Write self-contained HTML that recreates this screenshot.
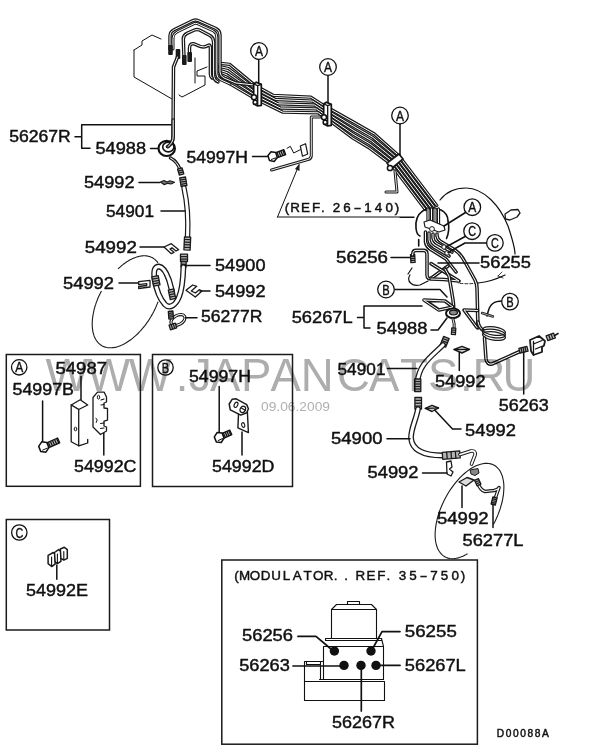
<!DOCTYPE html>
<html><head><meta charset="utf-8"><title>Brake pipes diagram</title>
<style>
html,body{margin:0;padding:0;background:#fff}
svg{display:block;will-change:transform}
.lb{font-family:"Liberation Sans",sans-serif;fill:#111;stroke:#111;stroke-width:.42px}
.cl{font-family:"Liberation Sans",sans-serif;fill:#111;stroke:#111;stroke-width:.4px}
.sm{font-family:"Liberation Sans",sans-serif;fill:#111;stroke:#111;stroke-width:.45px}
.dn{font-family:"Liberation Sans",sans-serif;fill:#111;stroke:#111;stroke-width:.45px}
</style></head><body>
<svg width="600" height="756" viewBox="0 0 600 756">
<rect width="600" height="756" fill="#fff"/>
<path d="M134,50 L134,77 L172,99 M179,95 L182,97 L186,95 L205,85 L205,76 L197,76 L197,71 L207,67 M134,50 L142,45 L142,41 L152,35 L161,39 M195,58 L195,83" fill="none" stroke="#111" stroke-width="1.0" stroke-linejoin="round" stroke-linecap="round" />
<path d="M221.0,62.0 L230.0,62.5 L255.0,84.0 L272.0,93.5 L310.0,95.5 L322.0,103.0 L353.0,120.0 L375.0,132.5 L400.0,155.0 L438.0,205.0 L424.0,210.0 L390.0,165.0 L368.0,149.0 L353.0,140.0 L331.0,123.0 L319.0,114.5 L284.0,114.0 L255.0,100.0 L225.0,83.0 L214.0,77.0 Z" fill="#fff" stroke="none"/>
<path d="M220.4,63.4 L229.6,64.3 L255.0,85.4 L273.1,95.3 L310.8,97.2 L322.8,104.8 L353.0,121.8 L374.4,134.0 L399.1,155.9 L436.7,205.4" fill="none" stroke="#1a1a1a" stroke-width="3.3" stroke-linecap="round" stroke-linejoin="round"/>
<path d="M220.4,63.4 L229.6,64.3 L255.0,85.4 L273.1,95.3 L310.8,97.2 L322.8,104.8 L353.0,121.8 L374.4,134.0 L399.1,155.9 L436.7,205.4" fill="none" stroke="#fff" stroke-width="1.0" stroke-linecap="round" stroke-linejoin="round"/>
<path d="M218.9,66.4 L228.5,68.5 L255.0,88.7 L275.5,99.5 L312.7,101.1 L324.7,108.9 L353.0,125.9 L372.9,137.4 L397.1,157.9 L433.9,206.5" fill="none" stroke="#1a1a1a" stroke-width="3.3" stroke-linecap="round" stroke-linejoin="round"/>
<path d="M218.9,66.4 L228.5,68.5 L255.0,88.7 L275.5,99.5 L312.7,101.1 L324.7,108.9 L353.0,125.9 L372.9,137.4 L397.1,157.9 L433.9,206.5" fill="none" stroke="#fff" stroke-width="1.0" stroke-linecap="round" stroke-linejoin="round"/>
<path d="M217.5,69.5 L227.5,72.8 L255.0,92.0 L278.0,103.8 L314.5,105.0 L326.5,113.0 L353.0,130.0 L371.5,140.8 L395.0,160.0 L431.0,207.5" fill="none" stroke="#1a1a1a" stroke-width="3.3" stroke-linecap="round" stroke-linejoin="round"/>
<path d="M217.5,69.5 L227.5,72.8 L255.0,92.0 L278.0,103.8 L314.5,105.0 L326.5,113.0 L353.0,130.0 L371.5,140.8 L395.0,160.0 L431.0,207.5" fill="none" stroke="#fff" stroke-width="1.0" stroke-linecap="round" stroke-linejoin="round"/>
<path d="M216.1,72.6 L226.5,77.0 L255.0,95.3 L280.5,108.0 L316.3,108.9 L328.3,117.1 L353.0,134.1 L370.1,144.1 L392.9,162.1 L428.1,208.5" fill="none" stroke="#1a1a1a" stroke-width="3.3" stroke-linecap="round" stroke-linejoin="round"/>
<path d="M216.1,72.6 L226.5,77.0 L255.0,95.3 L280.5,108.0 L316.3,108.9 L328.3,117.1 L353.0,134.1 L370.1,144.1 L392.9,162.1 L428.1,208.5" fill="none" stroke="#fff" stroke-width="1.0" stroke-linecap="round" stroke-linejoin="round"/>
<path d="M214.6,75.7 L225.4,81.2 L255.0,98.6 L282.9,112.2 L318.2,112.8 L330.2,121.2 L353.0,138.2 L368.6,147.5 L390.9,164.1 L425.3,209.6" fill="none" stroke="#1a1a1a" stroke-width="3.3" stroke-linecap="round" stroke-linejoin="round"/>
<path d="M214.6,75.7 L225.4,81.2 L255.0,98.6 L282.9,112.2 L318.2,112.8 L330.2,121.2 L353.0,138.2 L368.6,147.5 L390.9,164.1 L425.3,209.6" fill="none" stroke="#fff" stroke-width="1.0" stroke-linecap="round" stroke-linejoin="round"/>
<path d="M170,49 L170,36 Q170,31.5 174.5,29.5 L193,20.5 Q195.5,19.5 198,20.5 L216,28.5 Q220,30.5 220,35 L220,72 Q220,76 224,78 L236,83 L254,85" fill="none" stroke="#1a1a1a" stroke-width="3.5" stroke-linecap="round" stroke-linejoin="round"/>
<path d="M170,49 L170,36 Q170,31.5 174.5,29.5 L193,20.5 Q195.5,19.5 198,20.5 L216,28.5 Q220,30.5 220,35 L220,72 Q220,76 224,78 L236,83 L254,85" fill="none" stroke="#fff" stroke-width="1.0" stroke-linecap="round" stroke-linejoin="round"/>
<path d="M173,49 L173,38.5 Q173,34 177,32 L194,23.7 Q195.7,23 197.5,23.7 L213.5,31 Q216.8,33 216.8,37 L216.8,74 Q216.8,78 221,80 L230,84" fill="none" stroke="#1a1a1a" stroke-width="3.0" stroke-linecap="round" stroke-linejoin="round"/>
<path d="M173,49 L173,38.5 Q173,34 177,32 L194,23.7 Q195.7,23 197.5,23.7 L213.5,31 Q216.8,33 216.8,37 L216.8,74 Q216.8,78 221,80 L230,84" fill="none" stroke="#fff" stroke-width="1.0" stroke-linecap="round" stroke-linejoin="round"/>
<path d="M184,58 L183.3,39 Q183.3,35 187,33.3 L194.5,30 Q197,29 199.5,30 L210,35.5 Q213.6,37.5 213.6,42 L213.6,76 Q213.6,80 218,82" fill="none" stroke="#1a1a1a" stroke-width="3.5" stroke-linecap="round" stroke-linejoin="round"/>
<path d="M184,58 L183.3,39 Q183.3,35 187,33.3 L194.5,30 Q197,29 199.5,30 L210,35.5 Q213.6,37.5 213.6,42 L213.6,76 Q213.6,80 218,82" fill="none" stroke="#fff" stroke-width="1.0" stroke-linecap="round" stroke-linejoin="round"/>
<path d="M189.5,55 L189.5,48 Q189.7,43 194,43.8 L200,46.3 Q204.5,48 208,45.5 Q210.4,44 210.4,48 L210.4,74 Q210.4,77 212,78" fill="none" stroke="#1a1a1a" stroke-width="3.5" stroke-linecap="round" stroke-linejoin="round"/>
<path d="M189.5,55 L189.5,48 Q189.7,43 194,43.8 L200,46.3 Q204.5,48 208,45.5 Q210.4,44 210.4,48 L210.4,74 Q210.4,77 212,78" fill="none" stroke="#fff" stroke-width="1.0" stroke-linecap="round" stroke-linejoin="round"/>
<rect x="168.2" y="45" width="4.6" height="10" rx="1" fill="#1a1a1a"/>
<rect x="175.7" y="49" width="4.6" height="10" rx="1" fill="#1a1a1a"/>
<rect x="182.0" y="55" width="4.6" height="10" rx="1" fill="#1a1a1a"/>
<rect x="187.39999999999998" y="52" width="4.6" height="10" rx="1" fill="#1a1a1a"/>
<path d="M177.5,57 L173.5,67 L173,136 Q173,144 168,147" fill="none" stroke="#1a1a1a" stroke-width="3.5" stroke-linecap="round" stroke-linejoin="round"/>
<path d="M177.5,57 L173.5,67 L173,136 Q173,144 168,147" fill="none" stroke="#fff" stroke-width="1.0" stroke-linecap="round" stroke-linejoin="round"/>
<path d="M253.7,84 L256.3,82.2 L261.3,84.4 L261.3,105.4 L257.7,106 L253.7,104 Z" fill="#fff" stroke="#111" stroke-width="1.7" stroke-linejoin="round"/>
<path d="M257.7,85.6 L257.7,106 M257.7,85.6 L261.3,84.4 M257.7,85.6 L253.7,84" fill="none" stroke="#111" stroke-width="1.3"/>
<circle cx="254.0" cy="97.3" r="2.5" fill="#fff" stroke="#111" stroke-width="1.5"/>
<circle cx="255.2" cy="102.3" r="2" fill="#fff" stroke="#111" stroke-width="1.4"/>
<path d="M323.7,104 L326.3,102.2 L331.3,104.4 L331.3,125.4 L327.7,126 L323.7,124 Z" fill="#fff" stroke="#111" stroke-width="1.7" stroke-linejoin="round"/>
<path d="M327.7,105.6 L327.7,126 M327.7,105.6 L331.3,104.4 M327.7,105.6 L323.7,104" fill="none" stroke="#111" stroke-width="1.3"/>
<circle cx="324.0" cy="117.3" r="2.5" fill="#fff" stroke="#111" stroke-width="1.5"/>
<circle cx="325.2" cy="122.3" r="2" fill="#fff" stroke="#111" stroke-width="1.4"/>
<path d="M387,163 L399,154 L403,159 L391,169 Z" fill="#fff" stroke="#1a1a1a" stroke-width="1.7" stroke-linejoin="round"/>
<circle cx="390" cy="168" r="2.6" fill="#fff" stroke="#111" stroke-width="1.5"/>
<path d="M395,171 L397,192 L386,192" fill="none" stroke="#1a1a1a" stroke-width="3.0" stroke-linecap="round" stroke-linejoin="round"/>
<path d="M395,171 L397,192 L386,192" fill="none" stroke="#fff" stroke-width="0.9" stroke-linecap="round" stroke-linejoin="round"/>
<path d="M258.7,59.5 L258.7,82.5" fill="none" stroke="#111" stroke-width="1.5" stroke-linejoin="round" stroke-linecap="round" />
<path d="M328,75.5 L328,102.5" fill="none" stroke="#111" stroke-width="1.5" stroke-linejoin="round" stroke-linecap="round" />
<path d="M400,123 L400,155" fill="none" stroke="#111" stroke-width="1.5" stroke-linejoin="round" stroke-linecap="round" />
<circle cx="259" cy="51" r="8.3" fill="#fff" stroke="#111" stroke-width="1.3"/>
<text x="255.00" y="56.10" font-size="14" textLength="8.0" lengthAdjust="spacingAndGlyphs" class="cl">A</text>
<circle cx="328" cy="67" r="8.3" fill="#fff" stroke="#111" stroke-width="1.3"/>
<text x="324.00" y="72.10" font-size="14" textLength="8.0" lengthAdjust="spacingAndGlyphs" class="cl">A</text>
<circle cx="400" cy="115.5" r="8.3" fill="#fff" stroke="#111" stroke-width="1.3"/>
<text x="396.00" y="120.60" font-size="14" textLength="8.0" lengthAdjust="spacingAndGlyphs" class="cl">A</text>
<path d="M320,117 L311.3,117 L311.3,156 Q311,159.3 307,159.8 L271.5,170" fill="none" stroke="#1a1a1a" stroke-width="3.0" stroke-linecap="round" stroke-linejoin="round"/>
<path d="M320,117 L311.3,117 L311.3,156 Q311,159.3 307,159.8 L271.5,170" fill="none" stroke="#fff" stroke-width="0.9" stroke-linecap="round" stroke-linejoin="round"/>
<path d="M300.3,146 L305.5,143.7 L307.7,154 L302.5,156.3 Z" fill="#fff" stroke="#1a1a1a" stroke-width="1.2" stroke-linejoin="round"/>
<path d="M287,148.3 L290.3,146.3 L293.7,153 L300.3,149.7" fill="none" stroke="#111" stroke-width="1.0" stroke-linejoin="round" stroke-linecap="round" />
<path d="M276.8,157.9 L285.7,154.7 L283.9,149.6 L275.0,152.9 Z" fill="#bbb" stroke="#111" stroke-width="1.3" stroke-linejoin="round"/>
<path d="M278.8,157.2 L276.9,152.1" stroke="#111" stroke-width="1.2"/>
<path d="M280.8,156.5 L278.9,151.4" stroke="#111" stroke-width="1.2"/>
<path d="M282.8,155.8 L280.9,150.7" stroke="#111" stroke-width="1.2"/>
<path d="M284.7,155.1 L282.9,150.0" stroke="#111" stroke-width="1.2"/>
<path d="M277.3,157.5 L274.2,161.5 L269.5,160.6 L267.9,155.7 L271.0,151.7 L275.7,152.6 Z" fill="#fff" stroke="#111" stroke-width="1.5" stroke-linejoin="round"/>
<path d="M271.0,159.6 L276.2,157.7" stroke="#111" stroke-width="1"/>
<path d="M252.5,156.5 L267.5,156.5" fill="none" stroke="#111" stroke-width="1.5" stroke-linejoin="round" stroke-linecap="round" />
<path d="M277.5,217 L414,217" fill="none" stroke="#111" stroke-width="1.0" stroke-linejoin="round" stroke-linecap="round" />
<path d="M277.5,217 L299,165" fill="none" stroke="#111" stroke-width="1.0" stroke-linejoin="round" stroke-linecap="round" />
<path d="M299.5,163.5 L299.5,171 L295,169 Z" fill="#1a1a1a"/>
<path d="M81.7,124.7 L171,124.7 M81.7,124.7 L81.7,148.3 L90,148.3 M75,136.7 L81.7,136.7" fill="none" stroke="#111" stroke-width="1.5" stroke-linejoin="round" stroke-linecap="round" />
<ellipse cx="166.7" cy="148.4" rx="8.2" ry="7.6" fill="#fff" stroke="#111" stroke-width="2.2"/>
<ellipse cx="168.3" cy="147" rx="5.6" ry="4.9" fill="#fff" stroke="#111" stroke-width="1.6"/>
<ellipse cx="167.6" cy="146.8" rx="2" ry="1.8" fill="#333"/>
<path d="M173.2,120 L173.2,136 Q173.2,143 168,146.5" fill="none" stroke="#1a1a1a" stroke-width="3.5" stroke-linecap="round" stroke-linejoin="round"/>
<path d="M173.2,120 L173.2,136 Q173.2,143 168,146.5" fill="none" stroke="#fff" stroke-width="1.0" stroke-linecap="round" stroke-linejoin="round"/>
<path d="M150.5,148.5 L157.5,148.5" fill="none" stroke="#111" stroke-width="1.5" stroke-linejoin="round" stroke-linecap="round" />
<path d="M170.5,158 Q177,161 180.3,170" fill="none" stroke="#1a1a1a" stroke-width="3.5" stroke-linecap="round" stroke-linejoin="round"/>
<path d="M170.5,158 Q177,161 180.3,170" fill="none" stroke="#fff" stroke-width="1.0" stroke-linecap="round" stroke-linejoin="round"/>
<path d="M177.6,169.2 L179.4,175.2 L183.8,173.8 L182.0,167.8 Z" fill="#b4b4b4" stroke="#1a1a1a" stroke-width="1.3" stroke-linejoin="round"/>
<path d="M178.2,171.2 L182.6,169.8" stroke="#1a1a1a" stroke-width="1.25"/>
<path d="M178.8,173.2 L183.2,171.8" stroke="#1a1a1a" stroke-width="1.25"/>
<path d="M139,182.5 L160,182.5" fill="none" stroke="#111" stroke-width="1.5" stroke-linejoin="round" stroke-linecap="round" />
<path d="M160.5,182 L164,180.5 L167,182 L170,180.8 L174.5,182.2 L171,184 L168,183.3 L164,184.6 Z" fill="#777" stroke="#1a1a1a" stroke-width="1.2" stroke-linejoin="round"/>
<path d="M179.7,178.0 L181.1,186.5 L186.9,185.5 L185.5,177.0 Z" fill="#b4b4b4" stroke="#1a1a1a" stroke-width="1.3" stroke-linejoin="round"/>
<path d="M180.1,180.1 L185.8,179.2" stroke="#1a1a1a" stroke-width="1.25"/>
<path d="M180.4,182.2 L186.2,181.3" stroke="#1a1a1a" stroke-width="1.25"/>
<path d="M180.8,184.3 L186.5,183.4" stroke="#1a1a1a" stroke-width="1.25"/>
<path d="M184,188 Q189,210 187.5,238" fill="none" stroke="#1a1a1a" stroke-width="5.4" stroke-linecap="round" stroke-linejoin="round"/>
<path d="M184,188 Q189,210 187.5,238" fill="none" stroke="#fff" stroke-width="3.0" stroke-linecap="round" stroke-linejoin="round"/>
<path d="M184.5,236.9 L183.9,249.9 L190.1,250.1 L190.7,237.1 Z" fill="#b4b4b4" stroke="#1a1a1a" stroke-width="1.3" stroke-linejoin="round"/>
<path d="M184.4,239.5 L190.6,239.7" stroke="#1a1a1a" stroke-width="1.25"/>
<path d="M184.3,242.1 L190.5,242.3" stroke="#1a1a1a" stroke-width="1.25"/>
<path d="M184.1,244.7 L190.3,244.9" stroke="#1a1a1a" stroke-width="1.25"/>
<path d="M184.0,247.3 L190.2,247.5" stroke="#1a1a1a" stroke-width="1.25"/>
<path d="M161,211 L185,211" fill="none" stroke="#111" stroke-width="1.5" stroke-linejoin="round" stroke-linecap="round" />
<path d="M140,247 L164,247" fill="none" stroke="#111" stroke-width="1.5" stroke-linejoin="round" stroke-linecap="round" />
<path d="M164,247 L171.3,243.7 L178.7,249.7 L176,251 L172,247.7 L170,249 L174,252.3 L171.3,253.7 Z" fill="#fff" stroke="#1a1a1a" stroke-width="1.3" stroke-linejoin="round"/>
<path d="M180.5,254.2 L180.5,261.5 L187.5,261.5 L187.5,254.2 Z" fill="#b4b4b4" stroke="#1a1a1a" stroke-width="1.3" stroke-linejoin="round"/>
<path d="M180.5,256.6 L187.5,256.6" stroke="#1a1a1a" stroke-width="1.25"/>
<path d="M180.5,259.1 L187.5,259.1" stroke="#1a1a1a" stroke-width="1.25"/>
<path d="M181.2,261.4 L181.0,266.9 L186.0,267.1 L186.2,261.6 Z" fill="#b4b4b4" stroke="#1a1a1a" stroke-width="1.3" stroke-linejoin="round"/>
<path d="M181.1,264.2 L186.1,264.3" stroke="#1a1a1a" stroke-width="1.25"/>
<path d="M183.4,267 C183,280 182,290 179,297 C176,304.5 170,309.5 165,304.5 C160,299 156,288 154.6,279 C153.2,270 155,266.5 159,266.5 C163.5,267 166.5,273 169,280 L172,291" fill="none" stroke="#1a1a1a" stroke-width="5.8" stroke-linecap="round" stroke-linejoin="round"/>
<path d="M183.4,267 C183,280 182,290 179,297 C176,304.5 170,309.5 165,304.5 C160,299 156,288 154.6,279 C153.2,270 155,266.5 159,266.5 C163.5,267 166.5,273 169,280 L172,291" fill="none" stroke="#fff" stroke-width="3.2" stroke-linecap="round" stroke-linejoin="round"/>
<path d="M151.8,276.9 L153.6,286.1 L160.0,284.9 L158.2,275.7 Z" fill="#b4b4b4" stroke="#1a1a1a" stroke-width="1.3" stroke-linejoin="round"/>
<path d="M152.2,279.2 L158.7,278.0" stroke="#1a1a1a" stroke-width="1.25"/>
<path d="M152.7,281.5 L159.1,280.3" stroke="#1a1a1a" stroke-width="1.25"/>
<path d="M153.1,283.8 L159.6,282.6" stroke="#1a1a1a" stroke-width="1.25"/>
<path d="M168.3,290.1 L170.3,299.6 L175.7,298.4 L173.7,288.9 Z" fill="#b4b4b4" stroke="#1a1a1a" stroke-width="1.3" stroke-linejoin="round"/>
<path d="M168.8,292.5 L174.2,291.3" stroke="#1a1a1a" stroke-width="1.25"/>
<path d="M169.3,294.8 L174.7,293.7" stroke="#1a1a1a" stroke-width="1.25"/>
<path d="M169.8,297.2 L175.2,296.0" stroke="#1a1a1a" stroke-width="1.25"/>
<path d="M186,265.5 L210,265.5" fill="none" stroke="#111" stroke-width="1.5" stroke-linejoin="round" stroke-linecap="round" />
<path d="M119,283 L138,283" fill="none" stroke="#111" stroke-width="1.5" stroke-linejoin="round" stroke-linecap="round" />
<path d="M138.7,281.7 L150,280.3 L150,287 L138.7,288.5 L138.7,286.5 L146.7,285.5 L146.7,283.6 L138.7,284.6 Z" fill="#fff" stroke="#1a1a1a" stroke-width="1.3" stroke-linejoin="round"/>
<path d="M186,290.3 L192.7,285 L196.7,286.3 L191.3,291 L195.3,293 L199.3,289.7 L202,291 L195.3,297 Z" fill="#fff" stroke="#1a1a1a" stroke-width="1.3" stroke-linejoin="round"/>
<path d="M200,291 L210,291" fill="none" stroke="#111" stroke-width="1.5" stroke-linejoin="round" stroke-linecap="round" />
<ellipse cx="178" cy="320" rx="7.6" ry="4.6" transform="rotate(-28 178 320)" fill="none" stroke="#1a1a1a" stroke-width="3.2"/>
<ellipse cx="178" cy="320" rx="7.6" ry="4.6" transform="rotate(-28 178 320)" fill="none" stroke="#fff" stroke-width="1.0"/>
<path d="M168.3,311.4 L168.9,319.0 L173.5,318.6 L172.9,311.0 Z" fill="#b4b4b4" stroke="#1a1a1a" stroke-width="1.3" stroke-linejoin="round"/>
<path d="M168.5,313.3 L173.0,312.9" stroke="#1a1a1a" stroke-width="1.25"/>
<path d="M168.6,315.2 L173.2,314.8" stroke="#1a1a1a" stroke-width="1.25"/>
<path d="M168.8,317.1 L173.3,316.7" stroke="#1a1a1a" stroke-width="1.25"/>
<path d="M170.5,329.8 L176.7,327.8 L175.3,323.2 L169.1,325.2 Z" fill="#b4b4b4" stroke="#1a1a1a" stroke-width="1.3" stroke-linejoin="round"/>
<path d="M172.6,329.1 L171.1,324.5" stroke="#1a1a1a" stroke-width="1.25"/>
<path d="M174.7,328.5 L173.2,323.9" stroke="#1a1a1a" stroke-width="1.25"/>
<path d="M185.5,317.7 L197,317.7" fill="none" stroke="#111" stroke-width="1.5" stroke-linejoin="round" stroke-linecap="round" />
<path d="M158.1,301.7 L157.3,303.6 L156.5,305.6 L155.7,307.5 L154.8,309.4 L153.9,311.3 L152.9,313.2 L151.8,315.1 L150.7,317.0 L149.6,318.8 L148.5,320.6 L147.2,322.3 L146.0,324.1 L144.7,325.8 L143.4,327.4 L142.1,329.0 L140.7,330.5 L139.4,332.0 L138.0,333.5 L136.5,334.8 L135.1,336.2 L133.6,337.4 L132.2,338.6 L130.7,339.8 L129.2,340.8 L127.7,341.8 L126.2,342.8 L124.8,343.6 L123.3,344.4 L121.8,345.1 L120.4,345.7 L118.9,346.2 L117.5,346.7 L116.1,347.1 L114.7,347.4 L113.3,347.6 L111.9,347.8 L110.6,347.8 L109.3,347.8 L108.1,347.7 L106.8,347.5 L105.7,347.2 L104.5,346.9 L103.4,346.4 L102.3,345.9 L101.3,345.3 L100.3,344.7 L99.4,343.9 L98.5,343.1 L97.7,342.2 L96.9,341.2 L96.2,340.2 L95.6,339.1 L95.0,337.9 L94.4,336.7 L93.9,335.4 L93.5,334.0 L93.1,332.6 L92.8,331.1 L92.6,329.6 L92.4,328.0 L92.3,326.4 L92.2,324.7 L92.2,323.0 L92.3,321.3 L92.4,319.5 L92.6,317.7 L92.9,315.8 L93.2,314.0 L93.6,312.1 L94.0,310.2 L94.5,308.2 L95.0,306.3 L95.7,304.4 L96.3,302.4 L97.1,300.5 L97.8,298.5 L98.7,296.6 L99.6,294.7 L100.5,292.8 L101.5,290.9" fill="none" stroke="#1a1a1a" stroke-width="1.1"/>
<path d="M118.0,268.8 L118.5,268.3 L119.1,267.8 L119.7,267.3 L120.3,266.8 L120.8,266.3 L121.4,265.8 L122.0,265.3 L122.6,264.9 L123.2,264.4 L123.7,264.0 L124.3,263.5 L124.9,263.1 L125.5,262.7 L126.1,262.3 L126.7,261.9 L127.3,261.5 L127.8,261.2 L128.4,260.8 L129.0,260.5 L129.6,260.1 L130.2,259.8 L130.8,259.5 L131.4,259.2 L131.9,258.9 L132.5,258.6 L133.1,258.4 L133.7,258.1 L134.2,257.9 L134.8,257.7 L135.4,257.5 L136.0,257.3 L136.5,257.1 L137.1,256.9 L137.7,256.7 L138.2,256.6 L138.8,256.5 L139.3,256.3 L139.9,256.2 L140.4,256.1 L141.0,256.0 L141.5,256.0 L142.0,255.9 L142.6,255.9 L143.1,255.8 L143.6,255.8 L144.1,255.8 L144.6,255.8 L145.1,255.8 L145.7,255.8 L146.1,255.9 L146.6,255.9 L147.1,256.0 L147.6,256.1 L148.1,256.2 L148.6,256.3 L149.0,256.4 L149.5,256.5 L149.9,256.7 L150.4,256.8 L150.8,257.0 L151.2,257.2 L151.7,257.4 L152.1,257.6 L152.5,257.8 L152.9,258.0 L153.3,258.3 L153.7,258.5 L154.1,258.8 L154.4,259.1 L154.8,259.4 L155.2,259.7 L155.5,260.0 L155.9,260.3 L156.2,260.7 L156.5,261.0 L156.9,261.4 L157.2,261.7 L157.5,262.1 L157.8,262.5 L158.1,262.9" fill="none" stroke="#1a1a1a" stroke-width="1.1"/>
<path d="M440,200 C446,192 456,188 466,188 C484,188 500,206 508,226 C512,238 515,247 515,254" fill="none" stroke="#111" stroke-width="1.2" stroke-linejoin="round" stroke-linecap="round" />
<path d="M505,275 C497,279 488,282 478,283" fill="none" stroke="#111" stroke-width="1.2" stroke-linejoin="round" stroke-linecap="round" />
<path d="M478,283 C470,284 464,284 458,283" fill="none" stroke="#111" stroke-width="0.9" stroke-linejoin="round" stroke-linecap="round" stroke-dasharray="3 2"/>
<path d="M498,276 L502,272 M498,276 L503,278" fill="none" stroke="#111" stroke-width="0.8" stroke-linejoin="round" stroke-linecap="round" />
<path d="M505,214 L511,210 L518,209.5 L520,213 L517,217 L510,220 L505.5,219 Z" fill="#fff" stroke="#1a1a1a" stroke-width="1.3" stroke-linejoin="round"/>
<path d="M422.2,211.3 C417,215 415.5,222 416,228 C416.3,232 417.5,235 420,236 M422.2,211.3 C426,208.5 436,207.5 441,210 C446,212.5 448,216 448,221 C449.5,228 448.5,234 446.5,238.5 M418.7,239.5 L418.7,246" fill="none" stroke="#111" stroke-width="1.6" stroke-linejoin="round" stroke-linecap="round" />
<path d="M410,275 C406,281 412,287 420,285 L428,281 M412,268 L408,274" fill="none" stroke="#111" stroke-width="1.2" stroke-linejoin="round" stroke-linecap="round" />
<path d="M428,209 L428,224" fill="none" stroke="#1a1a1a" stroke-width="3.3" stroke-linecap="round" stroke-linejoin="round"/>
<path d="M428,209 L428,224" fill="none" stroke="#fff" stroke-width="1.0" stroke-linecap="round" stroke-linejoin="round"/>
<path d="M431.5,209 L431.5,224" fill="none" stroke="#1a1a1a" stroke-width="3.3" stroke-linecap="round" stroke-linejoin="round"/>
<path d="M431.5,209 L431.5,224" fill="none" stroke="#fff" stroke-width="1.0" stroke-linecap="round" stroke-linejoin="round"/>
<path d="M435,209 L435,224" fill="none" stroke="#1a1a1a" stroke-width="3.3" stroke-linecap="round" stroke-linejoin="round"/>
<path d="M435,209 L435,224" fill="none" stroke="#fff" stroke-width="1.0" stroke-linecap="round" stroke-linejoin="round"/>
<path d="M438.5,209 L438.5,224" fill="none" stroke="#1a1a1a" stroke-width="3.3" stroke-linecap="round" stroke-linejoin="round"/>
<path d="M438.5,209 L438.5,224" fill="none" stroke="#fff" stroke-width="1.0" stroke-linecap="round" stroke-linejoin="round"/>
<path d="M424,222 L430,220 L444,226 L445,230 L439,232 L425,227 Z" fill="#fff" stroke="#1a1a1a" stroke-width="1.2" stroke-linejoin="round"/>
<circle cx="432" cy="229" r="2.4" fill="#fff" stroke="#1a1a1a" stroke-width="1"/>
<path d="M425.5,232 L425.5,242 Q426,246 430,249 L446,259 L456,272" fill="none" stroke="#1a1a1a" stroke-width="3.6" stroke-linecap="round" stroke-linejoin="round"/>
<path d="M425.5,232 L425.5,242 Q426,246 430,249 L446,259 L456,272" fill="none" stroke="#fff" stroke-width="1.0" stroke-linecap="round" stroke-linejoin="round"/>
<path d="M429,233 L429,240 Q429.5,244 433,246.5 L449,256" fill="none" stroke="#1a1a1a" stroke-width="3.6" stroke-linecap="round" stroke-linejoin="round"/>
<path d="M429,233 L429,240 Q429.5,244 433,246.5 L449,256" fill="none" stroke="#fff" stroke-width="1.0" stroke-linecap="round" stroke-linejoin="round"/>
<path d="M433,234 L433,238 Q433.5,241 436,243 L452,252" fill="none" stroke="#1a1a1a" stroke-width="3.6" stroke-linecap="round" stroke-linejoin="round"/>
<path d="M433,234 L433,238 Q433.5,241 436,243 L452,252" fill="none" stroke="#fff" stroke-width="1.0" stroke-linecap="round" stroke-linejoin="round"/>
<path d="M410.5,254.6 L410.9,262.6 L415.1,262.4 L414.7,254.4 Z" fill="#b4b4b4" stroke="#1a1a1a" stroke-width="1.3" stroke-linejoin="round"/>
<path d="M410.6,256.6 L414.8,256.4" stroke="#1a1a1a" stroke-width="1.25"/>
<path d="M410.7,258.6 L414.9,258.4" stroke="#1a1a1a" stroke-width="1.25"/>
<path d="M410.8,260.6 L415.0,260.4" stroke="#1a1a1a" stroke-width="1.25"/>
<path d="M412.5,255 L413,252.5 Q413.5,250.4 416,250.4 L424,250.4 Q427,250.6 427,254 L427,275 Q427.3,280 431.5,278 L448,266" fill="none" stroke="#1a1a1a" stroke-width="3.6" stroke-linecap="round" stroke-linejoin="round"/>
<path d="M412.5,255 L413,252.5 Q413.5,250.4 416,250.4 L424,250.4 Q427,250.6 427,254 L427,275 Q427.3,280 431.5,278 L448,266" fill="none" stroke="#fff" stroke-width="1.0" stroke-linecap="round" stroke-linejoin="round"/>
<path d="M431,263.6 L459,281 L444,279.5 L431,279" fill="none" stroke="#1a1a1a" stroke-width="3.6" stroke-linecap="round" stroke-linejoin="round"/>
<path d="M431,263.6 L459,281 L444,279.5 L431,279" fill="none" stroke="#fff" stroke-width="1.0" stroke-linecap="round" stroke-linejoin="round"/>
<path d="M445,269 L449,276 L453,300 Q454,307 453.5,311" fill="none" stroke="#1a1a1a" stroke-width="3.6" stroke-linecap="round" stroke-linejoin="round"/>
<path d="M445,269 L449,276 L453,300 Q454,307 453.5,311" fill="none" stroke="#fff" stroke-width="1.0" stroke-linecap="round" stroke-linejoin="round"/>
<path d="M437,234 L437,236 Q437.5,239 440,241 L455,250 Q461,254 465,262 L475,280 Q477,284 477,288 L478,328" fill="none" stroke="#1a1a1a" stroke-width="3.6" stroke-linecap="round" stroke-linejoin="round"/>
<path d="M437,234 L437,236 Q437.5,239 440,241 L455,250 Q461,254 465,262 L475,280 Q477,284 477,288 L478,328" fill="none" stroke="#fff" stroke-width="1.0" stroke-linecap="round" stroke-linejoin="round"/>
<circle cx="444" cy="247" r="2.2" fill="#fff" stroke="#1a1a1a" stroke-width="1"/>
<circle cx="447" cy="253" r="2.2" fill="#fff" stroke="#1a1a1a" stroke-width="1"/>
<path d="M424,300 L445,301 L453,307 L439,310 Z" fill="none" stroke="#1a1a1a" stroke-width="3.6" stroke-linecap="round" stroke-linejoin="round"/>
<path d="M424,300 L445,301 L453,307 L439,310 Z" fill="none" stroke="#fff" stroke-width="1.0" stroke-linecap="round" stroke-linejoin="round"/>
<path d="M477.5,310.5 L464,310 L477,327.5" fill="none" stroke="#1a1a1a" stroke-width="3.6" stroke-linecap="round" stroke-linejoin="round"/>
<path d="M477.5,310.5 L464,310 L477,327.5" fill="none" stroke="#fff" stroke-width="1.0" stroke-linecap="round" stroke-linejoin="round"/>
<path d="M502.5,301 C494,301 490,304 488,312 L487,316" fill="none" stroke="#111" stroke-width="1.5" stroke-linejoin="round" stroke-linecap="round" />
<path d="M482,313 L493,316.5" fill="none" stroke="#1a1a1a" stroke-width="2.4" stroke-linecap="round" stroke-linejoin="round"/>
<path d="M482,313 L493,316.5" fill="none" stroke="#fff" stroke-width="0.6" stroke-linecap="round" stroke-linejoin="round"/>
<path d="M478,322 Q479,328 484,331" fill="none" stroke="#1a1a1a" stroke-width="3.6" stroke-linecap="round" stroke-linejoin="round"/>
<path d="M478,322 Q479,328 484,331" fill="none" stroke="#fff" stroke-width="1.0" stroke-linecap="round" stroke-linejoin="round"/>
<ellipse cx="494" cy="333.5" rx="11.5" ry="4.2" transform="rotate(8 494 333.5)" fill="#fff" stroke="#1a1a1a" stroke-width="1.2"/>
<ellipse cx="494" cy="336" rx="11.5" ry="4.2" transform="rotate(8 494 336)" fill="none" stroke="#1a1a1a" stroke-width="1.2"/>
<ellipse cx="494" cy="331" rx="11.5" ry="4.2" transform="rotate(8 494 331)" fill="none" stroke="#1a1a1a" stroke-width="1.2"/>
<path d="M484.5,338 L486,359 Q487,365 492,364 L521,351" fill="none" stroke="#1a1a1a" stroke-width="3.6" stroke-linecap="round" stroke-linejoin="round"/>
<path d="M484.5,338 L486,359 Q487,365 492,364 L521,351" fill="none" stroke="#fff" stroke-width="1.0" stroke-linecap="round" stroke-linejoin="round"/>
<path d="M520.1,353.1 L528.1,351.2 L526.9,346.4 L518.9,348.3 Z" fill="#b4b4b4" stroke="#1a1a1a" stroke-width="1.3" stroke-linejoin="round"/>
<path d="M522.1,352.7 L520.9,347.8" stroke="#1a1a1a" stroke-width="1.25"/>
<path d="M524.1,352.2 L522.9,347.3" stroke="#1a1a1a" stroke-width="1.25"/>
<path d="M526.1,351.7 L524.9,346.8" stroke="#1a1a1a" stroke-width="1.25"/>
<path d="M523.7,352 L523.7,394" fill="none" stroke="#111" stroke-width="1.5" stroke-linejoin="round" stroke-linecap="round" />
<path d="M530,340 L539,336 L545,341 L544,345.5 L542,347 L542,352 L533.5,355 L531,351 Z" fill="#fff" stroke="#1a1a1a" stroke-width="1.8" stroke-linejoin="round"/>
<path d="M533.5,341.5 L533.5,355 M533.5,344 L542,340.5 M535.5,349 L541.5,346.5" fill="none" stroke="#111" stroke-width="1.3" stroke-linejoin="round" stroke-linecap="round" />
<path d="M547.9,340.7 L555.4,338.0 L553.6,333.2 L546.1,335.9 Z" fill="#bbb" stroke="#1a1a1a" stroke-width="1.3" stroke-linejoin="round"/>
<path d="M550.4,339.8 L548.6,335.0" stroke="#1a1a1a" stroke-width="1.25"/>
<path d="M552.9,338.9 L551.1,334.1" stroke="#1a1a1a" stroke-width="1.25"/>
<path d="M554.5,335.6 L558,333.5" fill="none" stroke="#111" stroke-width="1.6" stroke-linejoin="round" stroke-linecap="round" />
<ellipse cx="453" cy="313.2" rx="7" ry="4.8" fill="#fff" stroke="#111" stroke-width="2"/>
<ellipse cx="453.5" cy="312.6" rx="4" ry="2.4" fill="#888" stroke="#111" stroke-width="1.2"/>
<path d="M453,319 Q455,324 454,330" fill="none" stroke="#1a1a1a" stroke-width="3.0" stroke-linecap="round" stroke-linejoin="round"/>
<path d="M453,319 Q455,324 454,330" fill="none" stroke="#fff" stroke-width="0.9" stroke-linecap="round" stroke-linejoin="round"/>
<path d="M451.8,327.9 L451.4,334.4 L455.4,334.6 L455.8,328.1 Z" fill="#b4b4b4" stroke="#1a1a1a" stroke-width="1.3" stroke-linejoin="round"/>
<path d="M451.7,330.0 L455.7,330.3" stroke="#1a1a1a" stroke-width="1.25"/>
<path d="M451.5,332.2 L455.5,332.5" stroke="#1a1a1a" stroke-width="1.25"/>
<path d="M391,257.5 L410,257.5" fill="none" stroke="#111" stroke-width="1.5" stroke-linejoin="round" stroke-linecap="round" />
<path d="M394,289.5 L440,289.5 L447,297" fill="none" stroke="#111" stroke-width="1.5" stroke-linejoin="round" stroke-linecap="round" />
<path d="M364,306 L422,306 M364,306 L364,328 L370,328 M357.5,317.5 L364,317.5" fill="none" stroke="#111" stroke-width="1.5" stroke-linejoin="round" stroke-linecap="round" />
<path d="M431,330 L438,330 L447,318" fill="none" stroke="#111" stroke-width="1.5" stroke-linejoin="round" stroke-linecap="round" />
<path d="M438,263 L479,263" fill="none" stroke="#111" stroke-width="1.5" stroke-linejoin="round" stroke-linecap="round" />
<path d="M465.5,212.5 L444,226" fill="none" stroke="#111" stroke-width="1.5" stroke-linejoin="round" stroke-linecap="round" />
<path d="M466,236 L446,247" fill="none" stroke="#111" stroke-width="1.5" stroke-linejoin="round" stroke-linecap="round" />
<path d="M487,243 L465,243 L448,252.5" fill="none" stroke="#111" stroke-width="1.5" stroke-linejoin="round" stroke-linecap="round" />
<circle cx="472.3" cy="207.2" r="8.3" fill="#fff" stroke="#111" stroke-width="1.3"/>
<text x="468.30" y="212.30" font-size="14" textLength="8.0" lengthAdjust="spacingAndGlyphs" class="cl">A</text>
<circle cx="472.1" cy="231.2" r="8.3" fill="#fff" stroke="#111" stroke-width="1.3"/>
<text x="468.20" y="236.30" font-size="14" textLength="7.8" lengthAdjust="spacingAndGlyphs" class="cl">C</text>
<circle cx="494.9" cy="242.9" r="8.3" fill="#fff" stroke="#111" stroke-width="1.3"/>
<text x="491.00" y="248.00" font-size="14" textLength="7.8" lengthAdjust="spacingAndGlyphs" class="cl">C</text>
<circle cx="386" cy="289.5" r="8.3" fill="#fff" stroke="#111" stroke-width="1.3"/>
<text x="382.30" y="294.60" font-size="14" textLength="7.4" lengthAdjust="spacingAndGlyphs" class="cl">B</text>
<circle cx="510" cy="301.6" r="8.3" fill="#fff" stroke="#111" stroke-width="1.3"/>
<text x="506.30" y="306.70" font-size="14" textLength="7.4" lengthAdjust="spacingAndGlyphs" class="cl">B</text>
<path d="M400,217.5 L414,217.5" fill="none" stroke="#111" stroke-width="1.0" stroke-linejoin="round" stroke-linecap="round" />
<path d="M443.6,336.4 L440.2,344.9 L445.8,347.1 L449.2,338.6 Z" fill="#b4b4b4" stroke="#1a1a1a" stroke-width="1.3" stroke-linejoin="round"/>
<path d="M442.8,338.5 L448.3,340.7" stroke="#1a1a1a" stroke-width="1.25"/>
<path d="M441.9,340.6 L447.5,342.9" stroke="#1a1a1a" stroke-width="1.25"/>
<path d="M441.1,342.8 L446.6,345.0" stroke="#1a1a1a" stroke-width="1.25"/>
<path d="M443,345 C432,356 419,364 417.5,382" fill="none" stroke="#1a1a1a" stroke-width="5.6" stroke-linecap="round" stroke-linejoin="round"/>
<path d="M443,345 C432,356 419,364 417.5,382" fill="none" stroke="#fff" stroke-width="3.1" stroke-linecap="round" stroke-linejoin="round"/>
<path d="M414.6,379.0 L414.6,391.5 L420.8,391.5 L420.8,379.0 Z" fill="#b4b4b4" stroke="#1a1a1a" stroke-width="1.3" stroke-linejoin="round"/>
<path d="M414.6,381.5 L420.8,381.5" stroke="#1a1a1a" stroke-width="1.25"/>
<path d="M414.6,384.0 L420.8,384.0" stroke="#1a1a1a" stroke-width="1.25"/>
<path d="M414.6,386.5 L420.8,386.5" stroke="#1a1a1a" stroke-width="1.25"/>
<path d="M414.6,389.0 L420.8,389.0" stroke="#1a1a1a" stroke-width="1.25"/>
<path d="M387.5,368.5 L417,368.5" fill="none" stroke="#111" stroke-width="1.5" stroke-linejoin="round" stroke-linecap="round" />
<path d="M454,349.5 L462,346.3 L469.5,349.3 L462,353 Z" fill="#ccc" stroke="#1a1a1a" stroke-width="1.4" stroke-linejoin="round"/>
<path d="M454,349.5 L469.5,349.3" fill="none" stroke="#111" stroke-width="1.2" stroke-linejoin="round" stroke-linecap="round" />
<path d="M459.3,352.5 L459.3,370.5" fill="none" stroke="#111" stroke-width="1.5" stroke-linejoin="round" stroke-linecap="round" />
<path d="M414.9,397.5 L414.9,409.0 L421.5,409.0 L421.5,397.5 Z" fill="#b4b4b4" stroke="#1a1a1a" stroke-width="1.3" stroke-linejoin="round"/>
<path d="M414.9,400.4 L421.5,400.4" stroke="#1a1a1a" stroke-width="1.25"/>
<path d="M414.9,403.2 L421.5,403.2" stroke="#1a1a1a" stroke-width="1.25"/>
<path d="M414.9,406.1 L421.5,406.1" stroke="#1a1a1a" stroke-width="1.25"/>
<path d="M418,409 C416,420 411,428 411,438 C412,450 424,455.5 443,455.5" fill="none" stroke="#1a1a1a" stroke-width="5.8" stroke-linecap="round" stroke-linejoin="round"/>
<path d="M418,409 C416,420 411,428 411,438 C412,450 424,455.5 443,455.5" fill="none" stroke="#fff" stroke-width="3.2" stroke-linecap="round" stroke-linejoin="round"/>
<path d="M442.8,459.3 L460.3,457.8 L459.7,450.8 L442.2,452.3 Z" fill="#b4b4b4" stroke="#1a1a1a" stroke-width="1.3" stroke-linejoin="round"/>
<path d="M447.2,458.9 L446.6,451.9" stroke="#1a1a1a" stroke-width="1.25"/>
<path d="M451.5,458.5 L451.0,451.6" stroke="#1a1a1a" stroke-width="1.25"/>
<path d="M455.9,458.2 L455.3,451.2" stroke="#1a1a1a" stroke-width="1.25"/>
<path d="M460,454.5 L471,451 Q476,450.5 475,455 L471.5,464" fill="none" stroke="#1a1a1a" stroke-width="3.6" stroke-linecap="round" stroke-linejoin="round"/>
<path d="M460,454.5 L471,451 Q476,450.5 475,455 L471.5,464" fill="none" stroke="#fff" stroke-width="1.8" stroke-linecap="round" stroke-linejoin="round"/>
<path d="M387,438.75 L410,438.75" fill="none" stroke="#111" stroke-width="1.5" stroke-linejoin="round" stroke-linecap="round" />
<path d="M425.3,408.3 L432,405.3 L438.5,408 L432,411.5 Z" fill="#ccc" stroke="#1a1a1a" stroke-width="1.4" stroke-linejoin="round"/>
<path d="M425.3,408.3 L438.5,408" fill="none" stroke="#111" stroke-width="1.2" stroke-linejoin="round" stroke-linecap="round" />
<path d="M434.7,410 L452.5,429 L461,429" fill="none" stroke="#111" stroke-width="1.5" stroke-linejoin="round" stroke-linecap="round" />
<path d="M446.5,462 L451,461 L452,467 L449.5,469 L453,472 L451,476 L447,474 Z" fill="#fff" stroke="#1a1a1a" stroke-width="1.3" stroke-linejoin="round"/>
<path d="M422.5,473 L447,473" fill="none" stroke="#111" stroke-width="1.5" stroke-linejoin="round" stroke-linecap="round" />
<path d="M493.3,524.5 L495.0,521.4 L496.5,518.2 L497.9,514.9 L499.1,511.7 L500.3,508.4 L501.2,505.2 L502.1,502.0 L502.7,498.8 L503.3,495.7 L503.6,492.6 L503.8,489.7 L503.9,486.8 L503.8,484.1 L503.5,481.5 L503.0,479.0 L502.5,476.6 L501.7,474.5 L500.8,472.5 L499.8,470.6 L498.6,469.0 L497.3,467.6 L495.8,466.3 L494.3,465.3 L492.6,464.5 L490.8,463.9 L488.9,463.5 L486.9,463.3 L484.9,463.4 L482.7,463.7 L480.6,464.2 L478.3,464.9 L476.0,465.8 L473.7,467.0 L471.4,468.3 L469.0,469.9 L466.7,471.6 L464.4,473.5 L462.0,475.6 L459.8,477.9 L457.6,480.3 L455.4,482.9 L453.3,485.6 L451.3,488.4 L449.3,491.3 L447.5,494.3 L445.7,497.4 L444.1,500.5 L442.6,503.7 L441.2,507.0 L439.9,510.2 L438.8,513.5 L437.8,516.7 L437.0,519.9 L436.3,523.1 L435.8,526.2 L435.4,529.3 L435.2,532.2 L435.1,535.1 L435.2,537.8 L435.5,540.5 L435.9,542.9 L436.5,545.3 L437.3,547.5 L438.1,549.5 L439.2,551.3 L440.4,552.9 L441.7,554.4 L443.1,555.6 L444.7,556.7 L446.3,557.5 L448.1,558.1 L450.0,558.5 L452.0,558.7 L454.0,558.6 L456.2,558.3 L458.4,557.9 L460.6,557.1 L462.9,556.2 L465.2,555.1 L467.5,553.7" fill="none" stroke="#1a1a1a" stroke-width="1.1"/>
<path d="M470,470 L478,468.5 L479,473 L475,475.5 L471,474 Z" fill="#888" stroke="#1a1a1a" stroke-width="1" stroke-linejoin="round"/>
<path d="M459,482 L467,477.5 L474,480 L466,486 Z" fill="#ddd" stroke="#1a1a1a" stroke-width="1.4" stroke-linejoin="round"/>
<path d="M462,486 L462,507.5" fill="none" stroke="#111" stroke-width="1.5" stroke-linejoin="round" stroke-linecap="round" />
<path d="M478,483 Q480,490 485,491.5 L494,490.5 Q499,489 499,487.5 L495,499" fill="none" stroke="#1a1a1a" stroke-width="3.6" stroke-linecap="round" stroke-linejoin="round"/>
<path d="M478,483 Q480,490 485,491.5 L494,490.5 Q499,489 499,487.5 L495,499" fill="none" stroke="#fff" stroke-width="1.2" stroke-linecap="round" stroke-linejoin="round"/>
<path d="M474.6,480.4 L477.1,485.9 L480.9,484.1 L478.4,478.6 Z" fill="#b4b4b4" stroke="#1a1a1a" stroke-width="1.3" stroke-linejoin="round"/>
<path d="M475.4,482.2 L479.2,480.5" stroke="#1a1a1a" stroke-width="1.25"/>
<path d="M476.3,484.0 L480.1,482.3" stroke="#1a1a1a" stroke-width="1.25"/>
<path d="M492.9,497.0 L491.1,504.0 L495.3,505.0 L497.1,498.0 Z" fill="#b4b4b4" stroke="#1a1a1a" stroke-width="1.3" stroke-linejoin="round"/>
<path d="M492.4,498.7 L496.7,499.8" stroke="#1a1a1a" stroke-width="1.25"/>
<path d="M492.0,500.5 L496.2,501.5" stroke="#1a1a1a" stroke-width="1.25"/>
<path d="M491.5,502.2 L495.8,503.3" stroke="#1a1a1a" stroke-width="1.25"/>
<path d="M493,504 L493,527.5" fill="none" stroke="#111" stroke-width="1.5" stroke-linejoin="round" stroke-linecap="round" />
<rect x="6.3" y="354.5" width="134.1" height="131.8" fill="none" stroke="#1a1a1a" stroke-width="1.5"/>
<rect x="152.5" y="354.5" width="140.0" height="132.0" fill="none" stroke="#1a1a1a" stroke-width="1.5"/>
<rect x="6.3" y="519.5" width="103.2" height="110.5" fill="none" stroke="#1a1a1a" stroke-width="1.5"/>
<rect x="221.8" y="560" width="255.59999999999997" height="184.20000000000005" fill="none" stroke="#1a1a1a" stroke-width="1.5"/>
<circle cx="19.2" cy="367.3" r="7.7" fill="#fff" stroke="#111" stroke-width="1.3"/>
<text x="15.20" y="372.40" font-size="14" textLength="8.0" lengthAdjust="spacingAndGlyphs" class="cl">A</text>
<circle cx="165.5" cy="367.5" r="7.7" fill="#fff" stroke="#111" stroke-width="1.3"/>
<text x="161.80" y="372.60" font-size="14" textLength="7.4" lengthAdjust="spacingAndGlyphs" class="cl">B</text>
<circle cx="19.3" cy="532.5" r="7.7" fill="#fff" stroke="#111" stroke-width="1.3"/>
<text x="15.40" y="537.60" font-size="14" textLength="7.8" lengthAdjust="spacingAndGlyphs" class="cl">C</text>
<path d="M81,376.5 L81,399.5" fill="none" stroke="#111" stroke-width="1.5" stroke-linejoin="round" stroke-linecap="round" />
<path d="M42.6,401 L42.6,441.5" fill="none" stroke="#111" stroke-width="1.5" stroke-linejoin="round" stroke-linecap="round" />
<path d="M103.8,431 L103.8,455" fill="none" stroke="#111" stroke-width="1.5" stroke-linejoin="round" stroke-linecap="round" />
<path d="M71.2,405 L80.2,399.7 L87.7,405 L78.7,409.5 Z" fill="#fff" stroke="#1a1a1a" stroke-width="1.3" stroke-linejoin="round"/>
<path d="M71.2,405 L78.7,409.5 L78.7,445.8 L71.2,441.7 Z" fill="#fff" stroke="#1a1a1a" stroke-width="1.3" stroke-linejoin="round"/>
<path d="M78.7,445.8 L87.7,443 L87.7,439.5" fill="none" stroke="#111" stroke-width="1.3" stroke-linejoin="round" stroke-linecap="round" />
<ellipse cx="75.5" cy="429" rx="1.3" ry="1.8" fill="none" stroke="#111" stroke-width="1"/>
<path d="M93,397.5 L97.5,392.2 L104.2,392.2 L106.5,397 L106.5,402 L104,403 L104,408 L107.5,408.5 L107.5,420 L104,421 L104,426 L106.5,427 L106.5,431 L100.5,434.5 L93,427 Z" fill="#fff" stroke="#1a1a1a" stroke-width="1.3" stroke-linejoin="round"/>
<ellipse cx="98.5" cy="397.2" rx="1.2" ry="1.9" fill="none" stroke="#111" stroke-width="1"/>
<path d="M96,418 Q98.5,419.5 96.3,422.5" fill="none" stroke="#111" stroke-width="1" stroke-linejoin="round" stroke-linecap="round" />
<path d="M101,400 L104,399 M101,405 L104,404.5 M100.5,423.5 L104,423 M100.5,428.5 L104,428" fill="none" stroke="#111" stroke-width="1.1" stroke-linejoin="round" stroke-linecap="round" />
<path d="M48.3,447.8 L59.7,442.8 L57.6,438.0 L46.2,443.1 Z" fill="#bbb" stroke="#111" stroke-width="1.3" stroke-linejoin="round"/>
<path d="M50.4,446.9 L48.3,442.2" stroke="#111" stroke-width="1.2"/>
<path d="M52.5,446.0 L50.3,441.2" stroke="#111" stroke-width="1.2"/>
<path d="M54.5,445.1 L52.4,440.3" stroke="#111" stroke-width="1.2"/>
<path d="M56.6,444.1 L54.5,439.4" stroke="#111" stroke-width="1.2"/>
<path d="M58.7,443.2 L56.6,438.5" stroke="#111" stroke-width="1.2"/>
<path d="M48.9,447.6 L45.9,452.2 L40.8,451.6 L38.7,446.4 L41.7,441.8 L46.8,442.4 Z" fill="#fff" stroke="#111" stroke-width="1.5" stroke-linejoin="round"/>
<path d="M42.3,450.3 L47.7,447.9" stroke="#111" stroke-width="1"/>
<path d="M219.2,386.5 L219.2,432" fill="none" stroke="#111" stroke-width="1.5" stroke-linejoin="round" stroke-linecap="round" />
<path d="M242,432 L242,455" fill="none" stroke="#111" stroke-width="1.5" stroke-linejoin="round" stroke-linecap="round" />
<path d="M238.5,413.9 L247.3,409.8 L248.4,432.6 L237.9,427.9 Z" fill="#fff" stroke="#1a1a1a" stroke-width="1.4" stroke-linejoin="round"/>
<ellipse cx="243.2" cy="425" rx="1.5" ry="2.4" transform="rotate(-15 243.2 425)" fill="none" stroke="#111" stroke-width="1"/>
<path d="M229.2,404 L232.1,399.3 L236.2,398.8 L246.7,404.6 L248.4,408.7 L246.7,412.8 L240.8,415.1 L230.3,409.8 Z" fill="#fff" stroke="#1a1a1a" stroke-width="1.5" stroke-linejoin="round"/>
<ellipse cx="236" cy="404.8" rx="1.7" ry="2.8" transform="rotate(25 236 404.8)" fill="#fff" stroke="#111" stroke-width="1.1"/>
<ellipse cx="242.8" cy="409.4" rx="2.6" ry="3.3" transform="rotate(25 242.8 409.4)" fill="#fff" stroke="#111" stroke-width="1.2"/>
<path d="M241.5,408 L245.5,410.5" fill="none" stroke="#111" stroke-width="1.2" stroke-linejoin="round" stroke-linecap="round" />
<path d="M223.5,438.3 L231.8,434.6 L229.7,430.1 L221.5,433.7 Z" fill="#bbb" stroke="#111" stroke-width="1.3" stroke-linejoin="round"/>
<path d="M225.4,437.5 L223.3,432.9" stroke="#111" stroke-width="1.2"/>
<path d="M227.2,436.7 L225.2,432.1" stroke="#111" stroke-width="1.2"/>
<path d="M229.0,435.9 L227.0,431.3" stroke="#111" stroke-width="1.2"/>
<path d="M230.9,435.0 L228.8,430.5" stroke="#111" stroke-width="1.2"/>
<path d="M224.1,438.1 L221.2,442.5 L216.3,441.9 L214.3,436.9 L217.2,432.5 L222.1,433.1 Z" fill="#fff" stroke="#111" stroke-width="1.5" stroke-linejoin="round"/>
<path d="M217.8,440.7 L223.0,438.4" stroke="#111" stroke-width="1"/>
<path d="M48.1,555.4 L53.3,552.5 L55.1,554.3 L55.1,564.2 L51.6,566.5 L48.1,563.6 Z" fill="#fff" stroke="#1a1a1a" stroke-width="1.5" stroke-linejoin="round"/>
<path d="M54.5,552.5 L58.6,549.6 L60.9,551.3 L60.9,561.3 L57.4,563.6 L55.1,561.8 Z" fill="#fff" stroke="#1a1a1a" stroke-width="1.5" stroke-linejoin="round"/>
<path d="M60.3,549 L64.4,547.3 L67.3,549.6 L67.3,558.3 L63.8,560.1 L60.9,558.3 Z" fill="#fff" stroke="#1a1a1a" stroke-width="1.5" stroke-linejoin="round"/>
<path d="M51.6,557 L51.6,566 M57.4,554 L57.4,563 M63.8,551.5 L63.8,559.5" fill="none" stroke="#111" stroke-width="1.1" stroke-linejoin="round" stroke-linecap="round" />
<path d="M56.8,565 L56.8,579.3" fill="none" stroke="#111" stroke-width="1.5" stroke-linejoin="round" stroke-linecap="round" />
<path d="M347.5,604.5 L347.5,601.5 L359.5,601.5 L359.5,604.5" fill="none" stroke="#111" stroke-width="1.1" stroke-linejoin="round" stroke-linecap="round" />
<path d="M331.5,609.5 L336.5,604.5 L371.5,604.5 L376.5,609.5 Z" fill="none" stroke="#111" stroke-width="1.1" stroke-linejoin="round" stroke-linecap="round" />
<path d="M331.5,609.5 L331.5,638.5 M376.5,609.5 L376.5,638.5" fill="none" stroke="#111" stroke-width="1.1" stroke-linejoin="round" stroke-linecap="round" />
<path d="M325.5,638.5 L381.5,638.5 M325.5,640.5 L381.5,640.5 M325.5,638.5 L325.5,640.5 M381.5,638.5 L383.5,646.5" fill="none" stroke="#111" stroke-width="1.1" stroke-linejoin="round" stroke-linecap="round" />
<path d="M323.5,646.5 L383.5,646.5 L383.5,679.5 M323.5,646.5 L323.5,679.5" fill="none" stroke="#111" stroke-width="1.1" stroke-linejoin="round" stroke-linecap="round" />
<path d="M304.5,661.5 L322.5,661.5 M306.5,661.5 L306.5,664.5 L320.5,664.5 L320.5,661.5 M304.5,661.5 L304.5,700.5 M320.5,665.5 L320.5,679.5" fill="none" stroke="#111" stroke-width="1.1" stroke-linejoin="round" stroke-linecap="round" />
<path d="M319.5,679.5 L383.5,679.5 M304.5,681.5 L384.5,681.5 L384.5,700.5 L304.5,700.5" fill="none" stroke="#111" stroke-width="1.1" stroke-linejoin="round" stroke-linecap="round" />
<circle cx="334.4" cy="651" r="4.7" fill="#111"/>
<circle cx="371" cy="651" r="4.7" fill="#111"/>
<circle cx="344" cy="665.4" r="4.7" fill="#111"/>
<circle cx="361" cy="665.4" r="4.7" fill="#111"/>
<circle cx="376" cy="665.4" r="4.7" fill="#111"/>
<path d="M298,636.4 L316,636.4 L331,649" fill="none" stroke="#111" stroke-width="1.7" stroke-linejoin="round" stroke-linecap="round" />
<path d="M400,631.6 L382,631.6 L373,648" fill="none" stroke="#111" stroke-width="1.7" stroke-linejoin="round" stroke-linecap="round" />
<path d="M293,666 L341,666" fill="none" stroke="#111" stroke-width="1.7" stroke-linejoin="round" stroke-linecap="round" />
<path d="M379,665.4 L400,665.4" fill="none" stroke="#111" stroke-width="1.7" stroke-linejoin="round" stroke-linecap="round" />
<path d="M361.3,669 L361.3,711" fill="none" stroke="#111" stroke-width="1.7" stroke-linejoin="round" stroke-linecap="round" />
<text x="9.2" y="142" font-size="15.6" textLength="61.6" lengthAdjust="spacingAndGlyphs" class="lb">56267R</text>
<text x="95.5" y="153.7" font-size="15.6" textLength="50.5" lengthAdjust="spacingAndGlyphs" class="lb">54988</text>
<text x="84" y="187.8" font-size="15.6" textLength="50.5" lengthAdjust="spacingAndGlyphs" class="lb">54992</text>
<text x="106" y="217" font-size="15.6" textLength="48" lengthAdjust="spacingAndGlyphs" class="lb">54901</text>
<text x="186.5" y="163" font-size="15.6" textLength="61.5" lengthAdjust="spacingAndGlyphs" class="lb">54997H</text>
<text x="84.8" y="253" font-size="15.6" textLength="52" lengthAdjust="spacingAndGlyphs" class="lb">54992</text>
<text x="63" y="288.5" font-size="15.6" textLength="51" lengthAdjust="spacingAndGlyphs" class="lb">54992</text>
<text x="215" y="271" font-size="15.6" textLength="50.5" lengthAdjust="spacingAndGlyphs" class="lb">54900</text>
<text x="215" y="296.5" font-size="15.6" textLength="50.5" lengthAdjust="spacingAndGlyphs" class="lb">54992</text>
<text x="201" y="322" font-size="15.6" textLength="61.5" lengthAdjust="spacingAndGlyphs" class="lb">56277R</text>
<text x="336" y="263.3" font-size="15.6" textLength="52" lengthAdjust="spacingAndGlyphs" class="lb">56256</text>
<text x="480" y="268" font-size="15.6" textLength="51" lengthAdjust="spacingAndGlyphs" class="lb">56255</text>
<text x="291.7" y="323" font-size="15.6" textLength="61" lengthAdjust="spacingAndGlyphs" class="lb">56267L</text>
<text x="376.5" y="334.2" font-size="15.6" textLength="51" lengthAdjust="spacingAndGlyphs" class="lb">54988</text>
<text x="337.5" y="375.3" font-size="15.6" textLength="48" lengthAdjust="spacingAndGlyphs" class="lb">54901</text>
<text x="435" y="386.8" font-size="15.6" textLength="50.5" lengthAdjust="spacingAndGlyphs" class="lb">54992</text>
<text x="498.7" y="410.8" font-size="15.6" textLength="50" lengthAdjust="spacingAndGlyphs" class="lb">56263</text>
<text x="465" y="435.5" font-size="15.6" textLength="51" lengthAdjust="spacingAndGlyphs" class="lb">54992</text>
<text x="331" y="443.9" font-size="15.6" textLength="51.5" lengthAdjust="spacingAndGlyphs" class="lb">54900</text>
<text x="367.5" y="478" font-size="15.6" textLength="51" lengthAdjust="spacingAndGlyphs" class="lb">54992</text>
<text x="437" y="524" font-size="15.6" textLength="51.5" lengthAdjust="spacingAndGlyphs" class="lb">54992</text>
<text x="462.5" y="546.1" font-size="15.6" textLength="61" lengthAdjust="spacingAndGlyphs" class="lb">56277L</text>
<text x="55.5" y="373.8" font-size="15.6" textLength="51.5" lengthAdjust="spacingAndGlyphs" class="lb">54987</text>
<text x="12.5" y="395.3" font-size="15.6" textLength="61.5" lengthAdjust="spacingAndGlyphs" class="lb">54997B</text>
<text x="74" y="471.5" font-size="15.6" textLength="62.5" lengthAdjust="spacingAndGlyphs" class="lb">54992C</text>
<text x="189" y="382.3" font-size="15.6" textLength="62" lengthAdjust="spacingAndGlyphs" class="lb">54997H</text>
<text x="212" y="471.5" font-size="15.6" textLength="62.5" lengthAdjust="spacingAndGlyphs" class="lb">54992D</text>
<text x="26" y="595.6" font-size="15.6" textLength="62" lengthAdjust="spacingAndGlyphs" class="lb">54992E</text>
<text x="242" y="641.2" font-size="15.6" textLength="51" lengthAdjust="spacingAndGlyphs" class="lb">56256</text>
<text x="239.2" y="671.4" font-size="15.6" textLength="50.6" lengthAdjust="spacingAndGlyphs" class="lb">56263</text>
<text x="404.8" y="636.8" font-size="15.6" textLength="52" lengthAdjust="spacingAndGlyphs" class="lb">56255</text>
<text x="404.8" y="671.4" font-size="15.6" textLength="61" lengthAdjust="spacingAndGlyphs" class="lb">56267L</text>
<text x="332" y="728" font-size="15.6" textLength="63" lengthAdjust="spacingAndGlyphs" class="lb">56267R</text>
<text x="287.1 295.0 305.5 316.0 322.9" y="212.3" font-size="13.4" text-anchor="middle" class="sm">(REF.</text>
<text x="336.5 347.0 357.6 368.1 378.6 389.2 397.0" y="212.3" font-size="13.4" text-anchor="middle" class="sm">26<tspan textLength="7.6" lengthAdjust="spacingAndGlyphs">-</tspan>140)</text>
<text x="236.6 244.5 255.0 265.5 276.1 286.6 297.1 307.7 318.2 328.7 335.6 346.2" y="579.5" font-size="13.4" text-anchor="middle" class="sm">(MODULATOR..</text>
<text x="360.4 370.9 381.4 388.3" y="579.5" font-size="13.4" text-anchor="middle" class="sm">REF.</text>
<text x="402.5 413.0 423.6 434.1 444.6 455.2 463.0" y="579.5" font-size="13.4" text-anchor="middle" class="sm">35<tspan textLength="7.6" lengthAdjust="spacingAndGlyphs">-</tspan>750)</text>
<text x="496.7" y="736.9" font-size="10.2" textLength="52" lengthAdjust="spacing" class="dn">D00088A</text>
<text x="45.5 87.2 128.7 175.7 189 210 241 270.5 300.8 337 369 400 428 460 472.5 502.5" y="391" font-size="45.5" fill="#adadad" style="font-family:'Liberation Sans',sans-serif;font-kerning:none;mix-blend-mode:multiply">WWW.JAPANCATS.RU</text>
<text x="261" y="411" font-size="12" textLength="69" lengthAdjust="spacingAndGlyphs" fill="#b0b0b0" style="font-family:'Liberation Sans',sans-serif;mix-blend-mode:multiply">09.06.2009</text>
</svg>
</body></html>
